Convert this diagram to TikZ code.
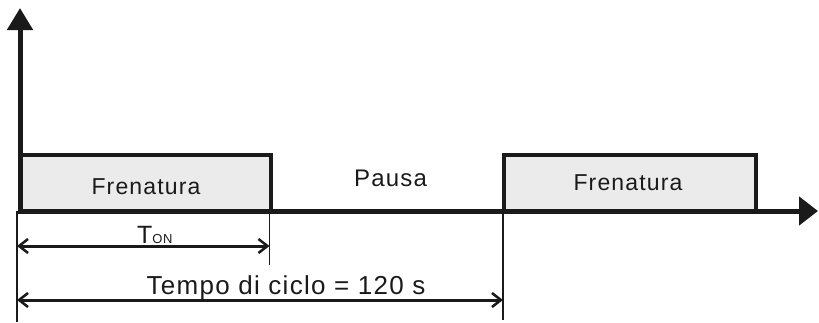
\documentclass[tikz,border=0pt]{standalone}
\usepackage{fontspec}
\setmainfont{Liberation Sans}[LetterSpace=5]
\usetikzlibrary{arrows.meta}
\definecolor{boxgray}{HTML}{EBEBEB}
\definecolor{ink}{HTML}{1A1A1A}
\tikzset{
  axisline/.style={draw=ink, line width=5pt},
  pulsebox/.style={draw=ink, line width=3.5pt, fill=boxgray, inner sep=0pt},
  guideline/.style={draw=ink, line width=1.3pt},
  dimline/.style={draw=ink, line width=3pt, {Straight Barb[length=9pt,width=14pt,line width=2.5pt]}-{Straight Barb[length=9pt,width=14pt,line width=2.5pt]}},
  lbl/.style={inner sep=0pt, anchor=base, text=ink}
}
\begin{document}
\begin{tikzpicture}[x=1pt,y=-1pt]
\useasboundingbox (0,0) rectangle (819,322);
% pulse boxes
\node[pulsebox, minimum width=251pt, minimum height=56pt] (box1) at (145.5,183) {};
\node[pulsebox, minimum width=252pt, minimum height=56pt] (box2) at (630,183) {};
% labels
\node[lbl, font=\fontsize{23}{27}\selectfont] (f1) at (146,194.3) {Frenatura};
\node[lbl, font=\fontsize{23}{27}\selectfont] (f2) at (628,190) {Frenatura};
\node[lbl, font=\fontsize{24}{28}\selectfont] (pausa) at (390.5,186.7) {Pausa};
% axes
\coordinate (origin) at (20,214);
\coordinate (ytip) at (20,8);
\coordinate (xstart) at (17.5,211);
\coordinate (xtip) at (818,211);
\draw[axisline, -{Triangle[length=22pt,width=25pt]}] (origin) -- (ytip);
\draw[axisline, -{Triangle[length=19pt,width=28pt]}] (xstart) -- (xtip);
% guide lines
\coordinate (g1a) at (17,211); \coordinate (g1b) at (17,322);
\coordinate (g2a) at (269.5,211); \coordinate (g2b) at (269.5,265);
\coordinate (g3a) at (503,211); \coordinate (g3b) at (503,320);
\draw[guideline] (g1a) -- (g1b);
\draw[guideline] (g2a) -- (g2b);
\draw[guideline] (g3a) -- (g3b);
% dimension arrows
\coordinate (d1a) at (17,246); \coordinate (d1b) at (269.5,246);
\coordinate (d2a) at (17,300); \coordinate (d2b) at (503,300);
\draw[dimline] (d1a) -- (d1b);
\draw[dimline] (d2a) -- (d2b);
\node[lbl, anchor=base west] (ton) at (137,243.3) {\fontsize{25}{28}\selectfont T\fontsize{13}{15}\selectfont ON};
\node[lbl, font=\fontsize{26}{30}\selectfont] (tempo) at (286,294.3) {Tempo di ciclo = 120 s};
\end{tikzpicture}
\end{document}
